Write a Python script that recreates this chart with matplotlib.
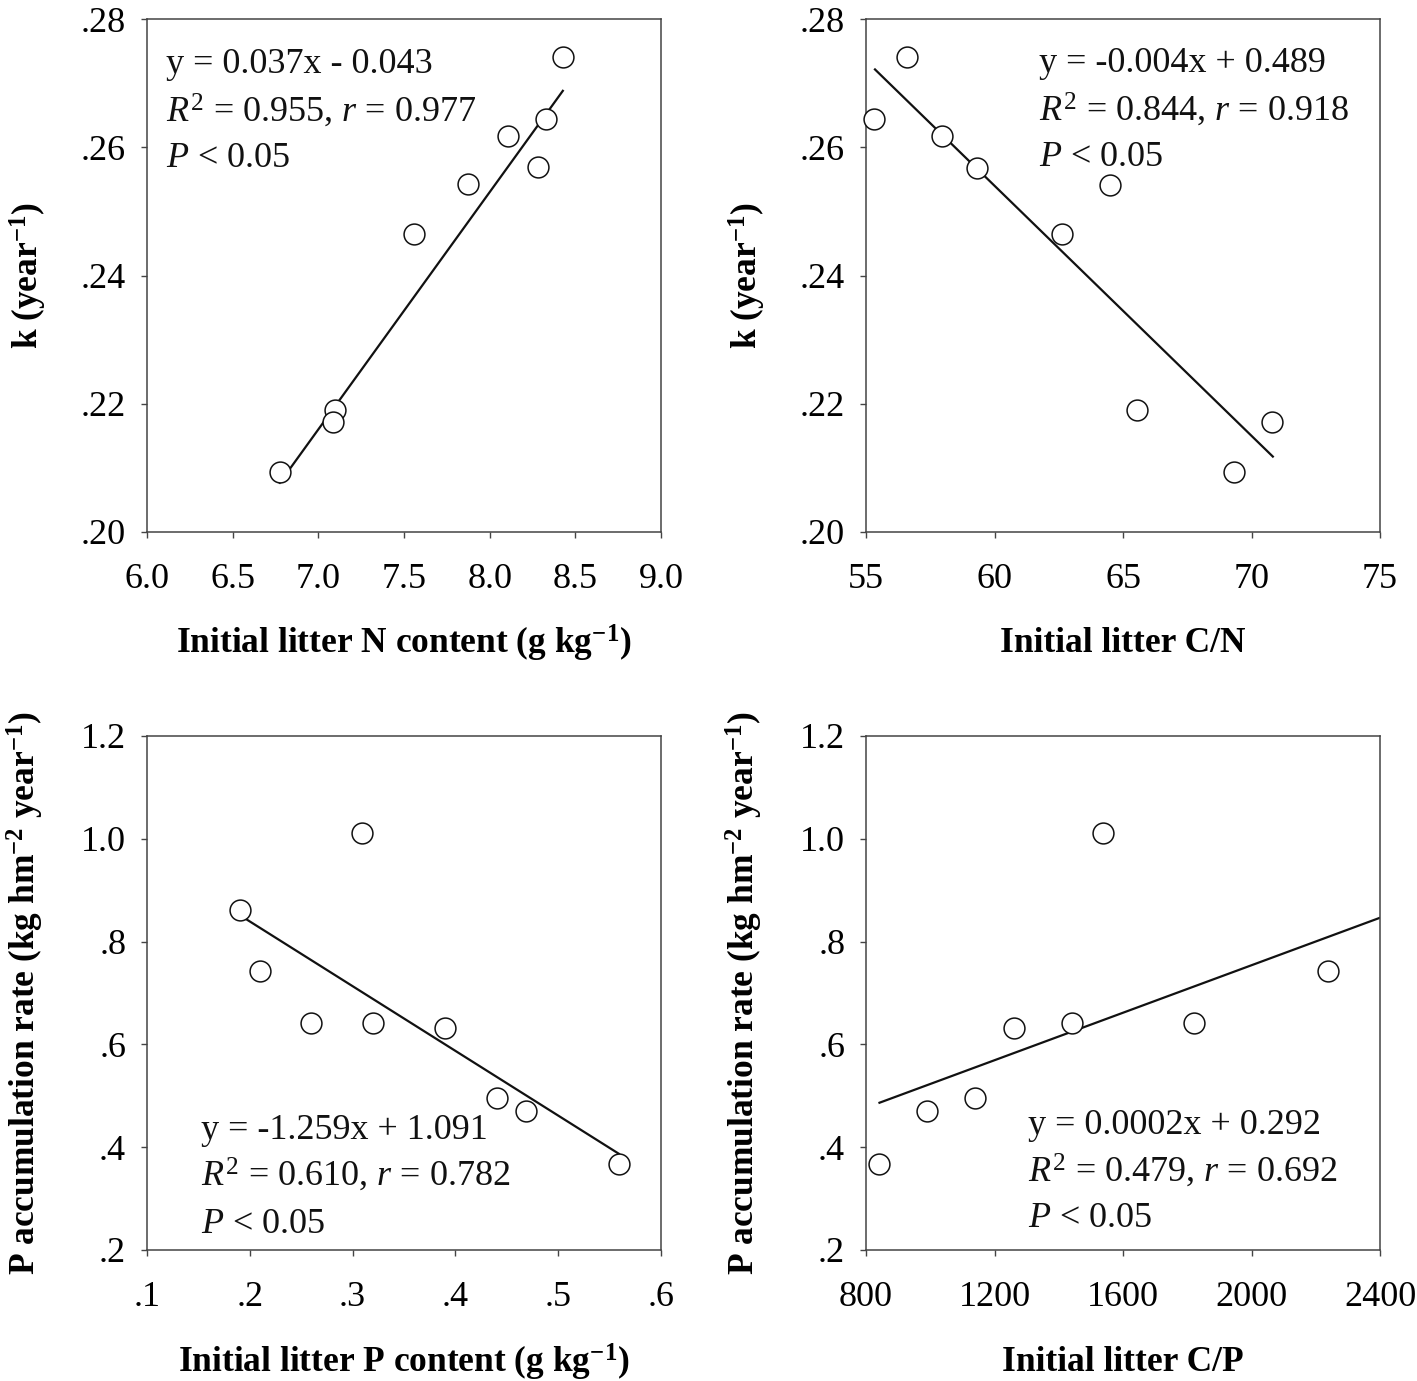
import numpy as np
import matplotlib
matplotlib.use("Agg")
import matplotlib.pyplot as plt

plt.rcParams['font.family'] = ['Liberation Serif', 'DejaVu Serif']
plt.rcParams['mathtext.fontset'] = 'custom'
plt.rcParams['mathtext.rm'] = 'Liberation Serif'
plt.rcParams['mathtext.it'] = 'Liberation Serif:italic'
plt.rcParams['mathtext.bf'] = 'Liberation Serif:bold'

# ---------------- data ----------------
# Panel A: k vs initial litter N content
n_content = [6.775, 7.098, 7.088, 7.556, 7.875, 8.108, 8.285, 8.327, 8.427]
k_vs_n = [0.2094, 0.2190, 0.2171, 0.2464, 0.2542, 0.2618, 0.2569, 0.2644, 0.2741]
# Panel B: k vs initial litter C/N
cn_ratio = [55.31, 56.60, 57.96, 59.33, 62.64, 64.49, 65.53, 69.33, 70.81]
k_vs_cn = [0.2644, 0.2741, 0.2618, 0.2568, 0.2464, 0.2541, 0.2190, 0.2094, 0.2172]
# Panel C: P accumulation vs initial litter P content
p_content = [0.190, 0.210, 0.260, 0.309, 0.320, 0.390, 0.440, 0.469, 0.559]
pacc_vs_p = [0.862, 0.743, 0.641, 1.011, 0.641, 0.632, 0.495, 0.470, 0.368]
# Panel D: P accumulation vs initial litter C/P
cp_ratio = [839, 989, 1139, 1260, 1440, 1538, 1820, 2237]
pacc_vs_cp = [0.368, 0.470, 0.495, 0.632, 0.641, 1.011, 0.641, 0.743]

# regression lines (slope, intercept, x-start, x-end)
fit_a = (0.037, -0.043, 6.775, 8.427)
fit_b = (-0.0039, 0.488, 55.35, 70.83)
fit_c = (-1.259, 1.091, 0.190, 0.559)
fit_d = (0.000231, 0.292, 842, 2400)

# annotation texts
ann_a = ["y = 0.037x - 0.043", r"$R^2$ = 0.955, $r$ = 0.977", r"$P$ < 0.05"]
ann_b = ["y = -0.004x + 0.489", r"$R^2$ = 0.844, $r$ = 0.918", r"$P$ < 0.05"]
ann_c = ["y = -1.259x + 1.091", r"$R^2$ = 0.610, $r$ = 0.782", r"$P$ < 0.05"]
ann_d = ["y = 0.0002x + 0.292", r"$R^2$ = 0.479, $r$ = 0.692", r"$P$ < 0.05"]

# ticks
xt_a = [6.0, 6.5, 7.0, 7.5, 8.0, 8.5, 9.0]
xtl_a = ["6.0", "6.5", "7.0", "7.5", "8.0", "8.5", "9.0"]
xt_b = [55, 60, 65, 70, 75]
xtl_b = ["55", "60", "65", "70", "75"]
yt_k = [0.20, 0.22, 0.24, 0.26, 0.28]
ytl_k = [".20", ".22", ".24", ".26", ".28"]
xt_c = [0.1, 0.2, 0.3, 0.4, 0.5, 0.6]
xtl_c = [".1", ".2", ".3", ".4", ".5", ".6"]
xt_d = [800, 1200, 1600, 2000, 2400]
xtl_d = ["800", "1200", "1600", "2000", "2400"]
yt_p = [0.2, 0.4, 0.6, 0.8, 1.0, 1.2]
ytl_p = [".2", ".4", ".6", ".8", "1.0", "1.2"]

xlab_a = r"Initial litter N content (g kg$^{\mathbf{-1}}$)"
xlab_b = "Initial litter C/N"
xlab_c = r"Initial litter P content (g kg$^{\mathbf{-1}}$)"
xlab_d = "Initial litter C/P"
ylab_k = r"k (year$^{\mathbf{-1}}$)"
ylab_p = r"P accumulation rate (kg hm$^{\mathbf{-2}}$ year$^{\mathbf{-1}}$)"

# ---------------- figure ----------------
W, H = 1417, 1381
fig = plt.figure(figsize=(W / 100, H / 100), dpi=100)

def axbox(x0, y0, x1, y1):
    return [x0 / W, 1 - y1 / H, (x1 - x0) / W, (y1 - y0) / H]

panels = [
    dict(box=axbox(147, 19, 661, 532), x=n_content, y=k_vs_n, fit=fit_a, ann=ann_a,
         ann_pos=(0.036, [0.895, 0.801, 0.712]), xt=xt_a, xtl=xtl_a, yt=yt_k, ytl=ytl_k,
         xlim=(6.0, 9.0), ylim=(0.20, 0.28), xlab=xlab_a, ylab=ylab_k, ylx=-0.23),
    dict(box=axbox(866, 19, 1380, 532), x=cn_ratio, y=k_vs_cn, fit=fit_b, ann=ann_b,
         ann_pos=(0.337, [0.897, 0.802, 0.714]), xt=xt_b, xtl=xtl_b, yt=yt_k, ytl=ytl_k,
         xlim=(55, 75), ylim=(0.20, 0.28), xlab=xlab_b, ylab=ylab_k, ylx=-0.23),
    dict(box=axbox(147, 736, 661, 1250), x=p_content, y=pacc_vs_p, fit=fit_c, ann=ann_c,
         ann_pos=(0.105, [0.215, 0.1245, 0.034]), xt=xt_c, xtl=xtl_c, yt=yt_p, ytl=ytl_p,
         xlim=(0.1, 0.6), ylim=(0.2, 1.2), xlab=xlab_c, ylab=ylab_p, ylx=-0.237),
    dict(box=axbox(866, 736, 1380, 1250), x=cp_ratio, y=pacc_vs_cp, fit=fit_d, ann=ann_d,
         ann_pos=(0.316, [0.226, 0.134, 0.045]), xt=xt_d, xtl=xtl_d, yt=yt_p, ytl=ytl_p,
         xlim=(800, 2400), ylim=(0.2, 1.2), xlab=xlab_d, ylab=ylab_p, ylx=-0.237),
]

spine_col = "#444444"
for p in panels:
    ax = fig.add_axes(p['box'])
    ax.set_xlim(*p['xlim'])
    ax.set_ylim(*p['ylim'])
    s, b, x0, x1 = p['fit']
    xs = np.array([x0, x1])
    ax.plot(xs, s * xs + b, color="#111111", lw=1.6, zorder=2, clip_on=True)
    ax.plot(p['x'], p['y'], linestyle='none', marker='o', ms=15, mfc='white',
            mec='#111111', mew=1.1, zorder=3, clip_on=False)
    ax.set_xticks(p['xt'])
    ax.set_xticklabels(p['xtl'])
    ax.set_yticks(p['yt'])
    ax.set_yticklabels(p['ytl'])
    ax.tick_params(direction='out', length=4, width=1, color=spine_col,
                   labelsize=26, pad=11, top=False, right=False)
    ax.tick_params(axis='x', pad=18)
    for sp in ax.spines.values():
        sp.set_color(spine_col)
        sp.set_linewidth(1.1)
    ax.set_xlabel(p['xlab'], fontsize=25.5, fontweight='bold', va='center')
    ax.xaxis.set_label_coords(0.5, -0.218)
    ax.set_ylabel(p['ylab'], fontsize=25.5, fontweight='bold', va='center')
    ax.yaxis.set_label_coords(p['ylx'], 0.5)
    ax_x, ys = p['ann_pos']
    for txt, yy in zip(p['ann'], ys):
        ax.text(ax_x, yy, txt, transform=ax.transAxes, fontsize=26,
                ha='left', va='baseline', color='#111111')

fig.savefig("out.png", dpi=100, facecolor='white')
